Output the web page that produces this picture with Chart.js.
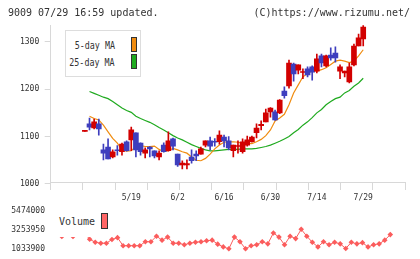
<!DOCTYPE html>
<html><head><meta charset="utf-8">
<script src="https://cdn.jsdelivr.net/npm/chart.js@4.4.1/dist/chart.umd.min.js"></script>
<style>
html,body{margin:0;padding:0;background:#fff;width:420px;height:259px;overflow:hidden;}
#wrap{position:relative;width:420px;height:259px;}
canvas{position:absolute;left:0;}
.t{position:absolute;font-family:"DejaVu Sans Mono",monospace;color:#333;white-space:nowrap;}
.sw{position:absolute;border:1px solid #333;box-sizing:border-box;}
</style></head><body>
<div id="wrap">
<canvas id="pc" width="420" height="205" style="top:0;width:420px;height:205px"></canvas>
<canvas id="vc" width="420" height="59" style="top:200px;width:420px;height:59px"></canvas>
<div class="t" style="left:8px;top:6px;font-size:10px;line-height:13px;">9009 07/29 16:59 updated.</div>
<div class="t" style="right:10px;top:6px;font-size:10px;line-height:13px;">(C)https://www.rizumu.net/</div>
<div style="position:absolute;left:65px;top:30px;width:76px;height:47px;border:1px solid #ddd;box-sizing:border-box;background:#fff;"></div>
<div class="t" style="right:305px;top:39px;font-size:11px;line-height:13px;transform:scaleX(0.76);transform-origin:right center;">5-day MA</div>
<div class="t" style="right:305px;top:56px;font-size:11px;line-height:13px;transform:scaleX(0.76);transform-origin:right center;">25-day MA</div>
<div class="sw" style="left:131px;top:37px;width:6px;height:15px;background:#f08c10;"></div>
<div class="sw" style="left:131px;top:54px;width:6px;height:15px;background:#1faa1f;"></div>
<div style="position:absolute;left:51px;top:205px;width:61px;height:31.5px;background:#fff;"></div>
<div class="t" style="left:59px;top:215px;font-size:10px;line-height:13px;">Volume</div>
<div class="sw" style="left:101px;top:213px;width:7px;height:16px;background:#ff6666;"></div>
</div>
<script>
// ---- data ----
const dates = ['5/1','5/2','5/7','5/8','5/9','5/12','5/13','5/14','5/15','5/16','5/19','5/20','5/21','5/22','5/23','5/26','5/27','5/28','5/29','5/30',
  '6/2','6/3','6/4','6/5','6/6','6/9','6/10','6/11','6/12','6/13','6/16','6/17','6/18','6/19','6/20','6/23','6/24','6/25','6/26','6/27','6/30',
  '7/1','7/2','7/3','7/4','7/7','7/8','7/9','7/10','7/11','7/14','7/15','7/16','7/17','7/18','7/22','7/23','7/24','7/25','7/28','7/29'];
const open  = [1111,1127,1118,1127,1072,1078,1057,1071,1068,1089,1093,1108,1086,1065,1078,1070,1057,1082,1070,1095,
  1063,1040,1040,1057,1063,1063,1082,1091,1089,1089,1099,1091,1070,1079,1068,1082,1089,1108,1123,1131,1152,
  1152,1150,1196,1207,1253,1240,1235,1243,1247,1238,1270,1249,1272,1276,1238,1234,1215,1251,1291,1306];
const high  = [1112,1139,1137,1137,1084,1095,1072,1081,1086,1091,1120,1108,1087,1076,1079,1070,1070,1087,1110,1097,
  1063,1049,1051,1072,1070,1078,1091,1099,1096,1112,1103,1100,1082,1091,1095,1101,1101,1127,1133,1158,1161,
  1156,1178,1205,1261,1255,1251,1243,1247,1249,1274,1274,1272,1287,1289,1251,1238,1255,1295,1316,1334];
const low   = [1111,1114,1116,1103,1051,1053,1055,1061,1061,1069,1070,1057,1061,1055,1057,1055,1051,1067,1069,1072,
  1037,1032,1032,1044,1049,1063,1078,1072,1080,1084,1078,1072,1057,1065,1065,1080,1088,1097,1114,1131,1141,
  1134,1148,1181,1202,1217,1232,1222,1226,1219,1234,1247,1247,1261,1257,1222,1226,1213,1249,1291,1291];
const close = [1112,1120,1131,1116,1065,1053,1068,1070,1084,1070,1114,1072,1068,1072,1074,1059,1065,1068,1091,1080,
  1040,1044,1043,1049,1059,1074,1091,1080,1088,1103,1091,1076,1082,1080,1089,1093,1099,1118,1126,1150,1160,
  1135,1177,1186,1255,1232,1251,1236,1230,1236,1264,1255,1270,1266,1266,1247,1238,1247,1291,1308,1331];
const ma5 = [null,1143,1138,1135,1124,1110,1096,1086,1072,1069,1070,1079,1081,1079,1079,1080,1073,1068,1070,1075,
  1072,1068,1065,1057,1050,1049,1054,1063,1074,1082,1088,1089,1089,1088,1086,1086,1085,1089,1094,1102,1114,
  1133,1139,1147,1167,1192,1209,1226,1233,1239,1238,1241,1245,1252,1259,1261,1259,1256,1259,1270,1283];
const ma25 = [null,1195,1191,1187,1183,1180,1174,1167,1160,1155,1151,1143,1138,1134,1130,1125,1119,1114,1108,1102,
  1097,1093,1088,1083,1079,1075,1072,1070,1070,1071,1072,1073,1073,1073,1074,1074,1074,1075,1077,1079,1082,
  1086,1090,1095,1100,1108,1115,1124,1131,1140,1150,1157,1167,1174,1180,1183,1192,1197,1206,1213,1223];
const volume = [2800000,2440000,2900000,2440000,2750000,2900000,2117000,1760000,1651000,1651000,2084000,2301000,1359000,1359000,1359000,1359000,1824000,1824000,2474000,2009000,
  2366000,1651000,1651000,1467000,1651000,1760000,1824000,1933000,2009000,1543000,1218000,1001000,2366000,1824000,1001000,1359000,1467000,1824000,1575000,2842000,2366000,
  1467000,2474000,2193000,3276000,2474000,1760000,1218000,1824000,1467000,1760000,1575000,1034000,1760000,1575000,1716000,1218000,1467000,1575000,2009000,2658000];
const xTickLabels = ['5/19','6/2','6/16','6/30','7/14','7/29'];
const priceTicks = [1000,1100,1200,1300];
const volTicks = [1033900,3253950,5474000];

// ---- style ----
const RED = '#d20000', BLUE = '#3e3ebe', ORANGE = '#f08c10', GREEN = '#1faa1f', VOLC = '#fb5c5c';
const AXC = '#d8d8d8', TXC = '#333';
const FONT = {family:'DejaVu Sans Mono', size:8};
const XMIN = -1.0, XMAX = 62.64;

const idx = dates.map((d,i)=>i);
const cols = idx.map(i => close[i] >= open[i] ? RED : BLUE);
const tickIdx = xTickLabels.map(l => dates.indexOf(l));

new Chart(document.getElementById('pc'), {
  data: {
    datasets: [
      {type:'line', label:'25-day MA', data: idx.map(i=>({x:i,y:ma25[i]})), borderColor:GREEN, borderWidth:1.2, pointRadius:0, order:4},
      {type:'line', label:'5-day MA', data: idx.map(i=>({x:i,y:ma5[i]})), borderColor:ORANGE, borderWidth:1.2, pointRadius:0, order:3},
      {type:'bar', label:'wick', data: idx.map(i=>({x:i,y:[low[i],high[i]]})), backgroundColor:cols, barThickness:1, grouped:false, order:2},
      {type:'bar', label:'body', data: idx.map(i=>({x:i,y:[open[i],close[i]]})), backgroundColor:cols, barThickness:5, minBarLength:1, grouped:false, order:1}
    ]
  },
  options: {
    responsive:false, animation:false, events:[],
    layout:{padding:{left:0,right:15,top:25,bottom:0}},
    plugins:{legend:{display:false}, tooltip:{enabled:false}},
    scales:{
      x:{type:'linear', min:XMIN, max:XMAX, position:'bottom', weight:1,
        grid:{display:false, drawTicks:false}, border:{display:false},
        ticks:{font:FONT, color:TXC, padding:3, maxRotation:0, autoSkip:false, callback:(v)=> dates[v] ?? ''},
        afterBuildTicks:(s)=>{ s.ticks = tickIdx.map(v=>({value:v})); },
        afterFit:(s)=>{ s.height = 15; }},
      xt:{type:'linear', min:0, max:11, position:'bottom', weight:0,
        grid:{drawOnChartArea:false, tickLength:8, color:AXC}, border:{color:AXC},
        ticks:{display:false, stepSize:1},
        afterFit:(s)=>{ s.height = 8; }},
      y:{type:'linear', min:1004.2, max:1335.2, bounds:'data', position:'left',
        grid:{drawOnChartArea:false, tickLength:6, color:AXC}, border:{color:AXC},
        ticks:{font:FONT, color:TXC, padding:5.5, callback:(v)=>String(v)},
        afterBuildTicks:(s)=>{ s.ticks = priceTicks.map(v=>({value:v})); },
        afterFit:(s)=>{ s.width = 50.7; }}
    }
  }
});

new Chart(document.getElementById('vc'), {
  type:'line',
  data:{datasets:[{label:'Volume', data: idx.map(i=>({x:i,y:volume[i]})), borderColor:VOLC, backgroundColor:VOLC,
    borderWidth:1, pointStyle:'rectRot', pointRadius:2.8, pointBorderWidth:0, clip:false}]},
  options:{
    responsive:false, animation:false, events:[],
    layout:{padding:{left:0,right:15,top:8.3,bottom:9.7}},
    plugins:{legend:{display:false}, tooltip:{enabled:false}},
    scales:{
      x:{type:'linear', min:XMIN, max:XMAX, display:false},
      y:{type:'linear', min:1033900, max:5474000, bounds:'data', position:'left',
        grid:{display:false, drawTicks:false}, border:{display:false},
        ticks:{font:FONT, color:TXC, padding:5.7, callback:(v)=>String(v)},
        afterBuildTicks:(s)=>{ s.ticks = volTicks.map(v=>({value:v})); },
        afterFit:(s)=>{ s.width = 50.7; }}
    }
  }
});
</script>
</body></html>
